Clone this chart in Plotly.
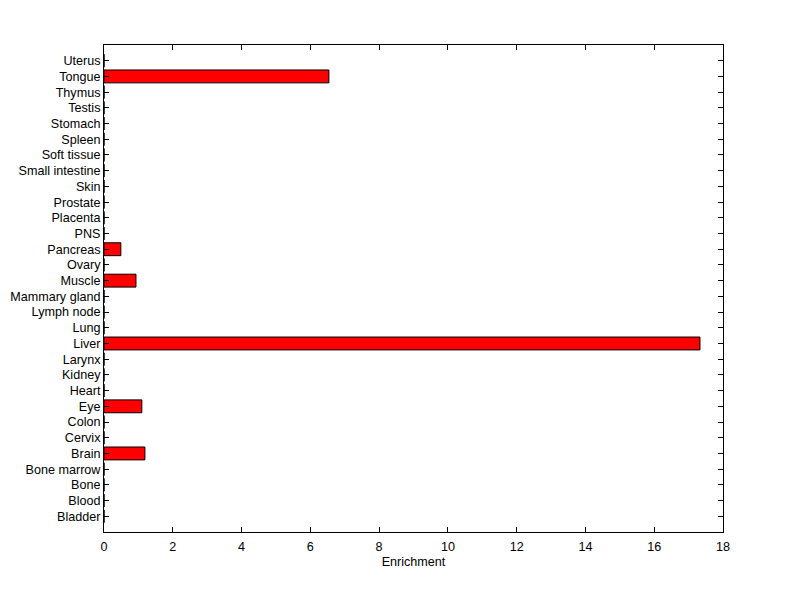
import plotly.graph_objects as go

# ── Data ───────────────────────────────────────────────────────────────────────
tissues = [
    'Bladder', 'Blood', 'Bone', 'Bone marrow', 'Brain', 'Cervix', 'Colon', 'Eye',
    'Heart', 'Kidney', 'Larynx', 'Liver', 'Lung', 'Lymph node', 'Mammary gland',
    'Muscle', 'Ovary', 'Pancreas', 'PNS', 'Placenta', 'Prostate', 'Skin',
    'Small intestine', 'Soft tissue', 'Spleen', 'Stomach', 'Testis', 'Thymus',
    'Tongue', 'Uterus',
]
enrichment = [
    0, 0, 0, 0, 1.19, 0, 0, 1.10,
    0, 0, 0, 17.33, 0, 0, 0,
    0.93, 0, 0.49, 0, 0, 0, 0,
    0, 0, 0, 0, 0, 0,
    6.54, 0,
]

# ── Figure ─────────────────────────────────────────────────────────────────────
FONT = dict(family='Liberation Sans, Arial, sans-serif', color='#000000', size=12.6)

pos = list(range(len(tissues)))
fig = go.Figure(go.Bar(
    x=enrichment,
    y=pos,
    orientation='h',
    width=0.82,
    marker=dict(color='#ff0000', line=dict(color='#000000', width=1)),
    hoverinfo='skip',
))

# page body has an 8px margin, so the plot box is shifted by 8px
fig.update_layout(
    width=800, height=599,
    paper_bgcolor='#ffffff',
    plot_bgcolor='#ffffff',
    font=FONT,
    margin=dict(t=37, b=75, l=96, r=85),
    showlegend=False,
)
fig.update_xaxes(
    range=[0, 18], dtick=2, showgrid=False, zeroline=False,
    showline=True, linecolor='#000000', linewidth=1, mirror='ticks',
    ticks='inside', ticklen=5, tickcolor='#000000', ticklabelstandoff=3,
    title=dict(text='Enrichment', standoff=4, font=dict(size=12.6)),
    automargin=False,
)
fig.update_yaxes(
    range=[-1, len(tissues)], tickvals=pos, ticktext=tissues,
    showgrid=False, zeroline=False,
    showline=True, linecolor='#000000', linewidth=1, mirror='ticks',
    ticks='inside', ticklen=5, tickcolor='#000000',
    automargin=False,
)

fig.write_html('out.html')
